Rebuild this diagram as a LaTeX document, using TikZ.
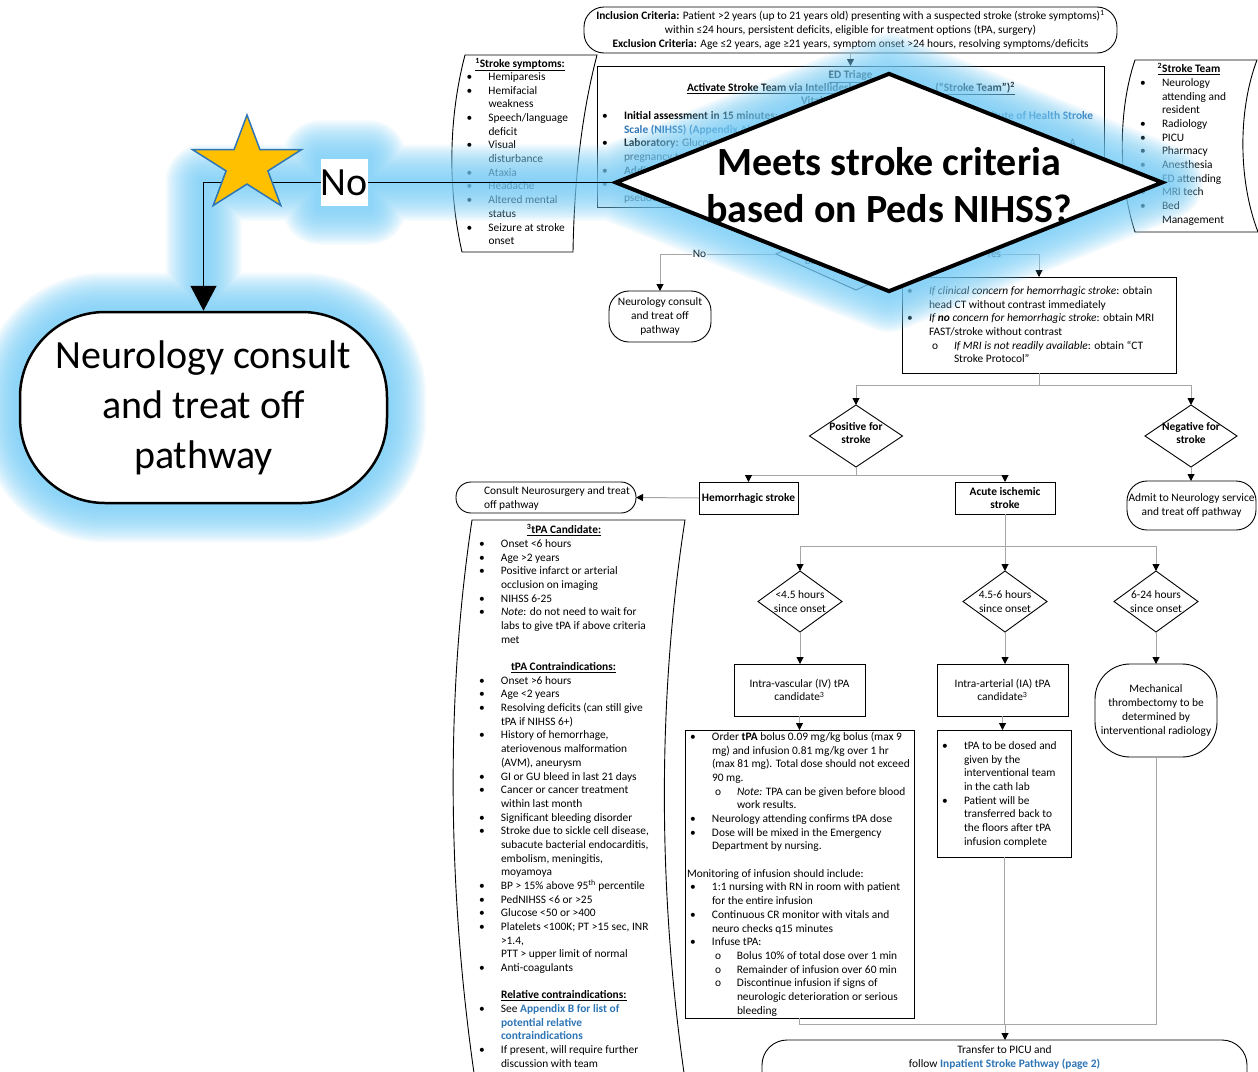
\documentclass[tikz,border=0pt]{standalone}
\usepackage{fontspec}
\setmainfont{Carlito}
\usetikzlibrary{shapes.geometric,arrows.meta}

\definecolor{linkblue}{RGB}{46,117,182}
\definecolor{conngray}{RGB}{166,166,166}
\definecolor{glowblue}{RGB}{118,204,246}
\definecolor{stargold}{RGB}{255,192,0}
\definecolor{staredge}{RGB}{46,117,182}

\newcommand\tf{\fontsize{11.4}{13.68}\selectfont}
\newcommand\hugeB{\fontsize{40}{47}\selectfont\bfseries}
\newcommand\hugeR{\fontsize{40}{50}\selectfont}
\newcommand\pbul{\makebox[22pt][l]{\textbullet}}
\newcommand\pind{\hspace*{22pt}}
\newcommand\psub{\hspace*{25pt}\makebox[22pt][l]{o}}
\newcommand\psubind{\hspace*{47pt}}
\newcommand\lnk[1]{\textcolor{linkblue}{\textbf{#1}}}

\pgfdeclarelayer{glowlayer}
\pgfdeclarelayer{frontlayer}
\pgfsetlayers{main,glowlayer,frontlayer}

\tikzset{
  txt/.style={inner sep=0pt, outer sep=0pt, font=\tf, align=left},
  ctxt/.style={inner sep=0pt, outer sep=0pt, font=\tf, align=center},
  box/.style={draw=black, line width=0.9pt, fill=white, inner sep=0pt, outer sep=0pt},
  term/.style={box, rounded corners=#1},
  dia/.style={box, diamond},
  conn/.style={draw=conngray, line width=1pt, -{Triangle[width=7pt,length=7pt,color=black]}},
  link/.style={draw=conngray, line width=1pt},
  bigdia/.style={diamond, draw=black, line width=4pt, fill=white, inner sep=0pt,
    minimum width=548pt, minimum height=219pt},
}

\begin{document}
\begin{tikzpicture}[x=1pt,y=-1pt]
\useasboundingbox (0,0) rectangle (1258,1071);
\clip (0,0) rectangle (1258,1071);

% ---------- criteria header ----------
\node[term=20pt, ctxt, draw, minimum width=533pt, minimum height=46pt] (incl) at (850.5,30)
  {\textbf{Inclusion Criteria:} Patient >2 years (up to 21 years old) presenting with a suspected stroke (stroke symptoms)\textsuperscript{1}\\
   within ≤24 hours, persistent deficits, eligible for treatment options (tPA, surgery)\\
   \textbf{Exclusion Criteria:} Age ≤2 years, age ≥21 years, symptom onset >24 hours, resolving symptoms/deficits};

% ---------- stroke symptoms (side note) ----------
% multi-line nodes are anchored on the baseline of their last line
\draw[box] (465,55) -- (597,55) .. controls (580,120) and (574,190) .. (573,252)
  -- (462,252) .. controls (448,190) and (448,120) .. (465,55) -- cycle;
\node[txt, anchor=base] (symt) at (520,67.5) {\textbf{\underline{\textsuperscript{1}Stroke symptoms:}}};
\node[txt, anchor=base west] (syml) at (466.5,244.7)
  {\pbul Hemiparesis\\\pbul Hemifacial\\\pind weakness\\\pbul Speech/language\\\pind deficit\\
   \pbul Visual\\\pind disturbance\\\pbul Ataxia\\\pbul Headache\\\pbul Altered mental\\\pind status\\
   \pbul Seizure at stroke\\\pind onset};

% ---------- stroke team (side note) ----------
\draw[box] (1135,60) -- (1257,60) .. controls (1238,110) and (1238,180) .. (1258,232)
  -- (1135,232) .. controls (1118,180) and (1118,110) .. (1135,60) -- cycle;
\node[txt, anchor=base] (teamt) at (1189,72.5) {\textbf{\underline{\textsuperscript{2}Stroke Team}}};
\node[txt, anchor=base west] (teaml) at (1140,223.3)
  {\pbul Neurology\\\pind attending and\\\pind resident\\\pbul Radiology\\\pbul PICU\\\pbul Pharmacy\\
   \pbul Anesthesia\\\pbul ED attending\\\pbul MRI tech\\\pbul Bed\\\pind Management};

% ---------- ED triage ----------
\node[box, minimum width=507pt, minimum height=141pt] (ed) at (850.5,136.5) {};
\node[txt, anchor=base] (edt) at (850.5,78.5) {\textbf{\underline{ED Triage}}};
\node[txt, anchor=base west] (act1) at (687,91.5) {\textbf{\underline{Activate Stroke Team via Intellidesk}}};
\node[txt, anchor=base east] (act2) at (1015,91.5) {\textbf{\underline{(“Stroke Team”)\textsuperscript{2}}}};
\node[txt, anchor=base west] (vit) at (801,104.5) {\textbf{Vital signs}};
\node[txt, anchor=base west] (edl) at (602,201.6)
  {\pbul\textbf{Initial assessment in 15 minutes}:\\
   \pind\lnk{Scale (NIHSS) (Appendix A)}\\
   \pbul\textbf{Laboratory:} Glucose\\
   \pind pregnancy test\\
   \pbul\textbf{Additional}\\
   \pbul\\
   \pind pseudotumor};
\node[txt, anchor=base east] (nih) at (1093,119.5) {\lnk{National Institute of Health Stroke}};
\node[txt, anchor=base east] (laba) at (1076,146.5) {A};

% ---------- first decision ----------
\node[dia, minimum width=160pt, minimum height=72pt,
  label={[ctxt]center:{Meets stroke criteria\\based on Peds NIHSS?}}] (sq) at (856,254) {};
\node[term=20pt, ctxt, minimum width=102pt, minimum height=51pt] (neuro) at (660,316.5)
  {Neurology consult\\and treat off\\pathway};
\node[box, minimum width=274pt, minimum height=96pt] (img) at (1039,325) {};
\node[txt, anchor=base west] (imgl) at (907,362.9)
  {\pbul\emph{If clinical concern for hemorrhagic stroke}: obtain\\
   \pind head CT without contrast immediately\\
   \pbul\emph{If \textbf{no} concern for hemorrhagic stroke}: obtain MRI\\
   \pind FAST/stroke without contrast\\
   \psub\emph{If MRI is not readily available}: obtain “CT\\
   \psubind Stroke Protocol”};

\draw[conn] (incl.south) -- (ed.north);
\draw[conn] (sq.west) -| (neuro.north) node[pos=0.33, txt, fill=white, inner sep=1pt] (nolbl) {No};
\draw[conn] (sq.east) -| (img.north) node[pos=0.28, txt, fill=white, inner sep=1pt] (yeslbl) {Yes};

% ---------- imaging result ----------
\coordinate (j1) at (1039,385);
\node[dia, minimum width=93pt, minimum height=62pt,
  label={[ctxt, font=\tf\bfseries, yshift=3pt]center:{Positive for\\stroke}}] (pos) at (856,436) {};
\node[dia, minimum width=92pt, minimum height=62pt,
  label={[ctxt, font=\tf\bfseries, yshift=3pt]center:{Negative for\\stroke}}] (neg) at (1191,436) {};
\draw[link] (img.south) -- (j1);
\draw[conn] (j1) -| (pos.north);
\draw[conn] (j1) -| (neg.north);

\node[term=20pt, ctxt, minimum width=129pt, minimum height=49pt] (admit) at (1191.5,505.5)
  {Admit to Neurology service\\and treat off pathway};
\draw[conn] (neg.south) -- (neg.south |- admit.north);

% ---------- stroke type ----------
\coordinate (j2) at (856,475);
\node[box, ctxt, font=\tf\bfseries, minimum width=99pt, minimum height=32pt] (hem) at (748.5,498) {Hemorrhagic stroke};
\node[box, ctxt, font=\tf\bfseries, minimum width=100pt, minimum height=32pt] (acute) at (1005,498) {Acute ischemic\\stroke};
\node[term=15pt, minimum width=180pt, minimum height=31pt] (consult) at (546,497.5) {};
\node[txt, anchor=base west] (consultt) at (484,508.2) {Consult Neurosurgery and treat\\off pathway};
\draw[link] (pos.south) -- (j2);
\draw[conn] (j2) -| (hem.north);
\draw[conn] (j2) -| (acute.north);
\draw[conn] (hem.west) -- (consult.east);

% ---------- tPA criteria (side note) ----------
\draw[box] (685,520) .. controls (657,700) and (657,900) .. (688,1100)
  -- (478,1100) .. controls (447,900) and (445,700) .. (472,520) -- cycle;
\node[txt, anchor=base] (tpat) at (564,533.5) {\textbf{\underline{\textsuperscript{3}tPA Candidate:}}};
\node[txt, anchor=base west] (tpal) at (479,1067.3)
  {\pbul Onset <6 hours\\
   \pbul Age >2 years\\
   \pbul Positive infarct or arterial\\
   \pind occlusion on imaging\\
   \pbul NIHSS 6-25\\
   \pbul\emph{Note}: do not need to wait for\\
   \pind labs to give tPA if above criteria\\
   \pind met\\
   ~\\
   \hspace*{32pt}\textbf{\underline{tPA Contraindications:}}\\
   \pbul Onset >6 hours\\
   \pbul Age <2 years\\
   \pbul Resolving deficits (can still give\\
   \pind tPA if NIHSS 6+)\\
   \pbul History of hemorrhage,\\
   \pind ateriovenous malformation\\
   \pind (AVM), aneurysm\\
   \pbul GI or GU bleed in last 21 days\\
   \pbul Cancer or cancer treatment\\
   \pind within last month\\
   \pbul Significant bleeding disorder\\
   \pbul Stroke due to sickle cell disease,\\
   \pind subacute bacterial endocarditis,\\
   \pind embolism, meningitis,\\
   \pind moyamoya\\
   \pbul BP > 15\% above 95\textsuperscript{th} percentile\\
   \pbul PedNIHSS <6 or >25\\
   \pbul Glucose <50 or >400\\
   \pbul Platelets <100K; PT >15 sec, INR\\
   \pind >1.4,\\
   \pind PTT > upper limit of normal\\
   \pbul Anti-coagulants\\
   ~\\
   \pind\textbf{\underline{Relative contraindications:}}\\
   \pbul See \lnk{Appendix B for list of}\\
   \pind\lnk{potential relative}\\
   \pind\lnk{contraindications}\\
   \pbul If present, will require further\\
   \pind discussion with team};

% ---------- time since onset ----------
\coordinate (j3) at (1005,546);
\node[dia, minimum width=84pt, minimum height=61pt,
  label={[ctxt]center:{<4.5 hours\\since onset}}] (d1) at (800,601.5) {};
\node[dia, minimum width=84pt, minimum height=61pt,
  label={[ctxt]center:{4.5-6 hours\\since onset}}] (d2) at (1005,601.5) {};
\node[dia, minimum width=84pt, minimum height=61pt,
  label={[ctxt]center:{6-24 hours\\since onset}}] (d3) at (1156,601.5) {};
\draw[link] (acute.south) -- (j3);
\draw[conn] (j3) -| (d1.north);
\draw[conn] (j3) -- (d2.north);
\draw[conn] (j3) -| (d3.north);

\node[box, ctxt, minimum width=131pt, minimum height=52pt] (iv) at (799.5,690) {Intra-vascular (IV) tPA\\candidate\textsuperscript{3}};
\node[box, ctxt, minimum width=131pt, minimum height=52pt] (ia) at (1002.5,690) {Intra-arterial (IA) tPA\\candidate\textsuperscript{3}};
\node[term=35pt, ctxt, minimum width=122pt, minimum height=93pt] (mech) at (1156,710.5)
  {Mechanical\\thrombectomy to be\\determined by\\interventional radiology};
\draw[conn] (d1.south) -- (d1.south |- iv.north);
\draw[conn] (d2.south) -- (d2.south |- ia.north);
\draw[conn] (d3.south) -- (d3.south |- mech.north);

% ---------- treatment details ----------
\node[box, minimum width=229pt, minimum height=288pt] (ivd) at (799.5,874) {};
\node[txt, anchor=base west] (ivdl) at (690,1014.1)
  {\pbul Order \textbf{tPA} bolus 0.09 mg/kg bolus (max 9\\
   \pind mg) and infusion 0.81 mg/kg over 1 hr\\
   \pind (max 81 mg). Total dose should not exceed\\
   \pind 90 mg.\\
   \psub\emph{Note:} TPA can be given before blood\\
   \psubind work results.\\
   \pbul Neurology attending confirms tPA dose\\
   \pbul Dose will be mixed in the Emergency\\
   \pind Department by nursing.\\
   ~\\
   \hspace*{-3pt}Monitoring of infusion should include:\\
   \pbul 1:1 nursing with RN in room with patient\\
   \pind for the entire infusion\\
   \pbul Continuous CR monitor with vitals and\\
   \pind neuro checks q15 minutes\\
   \pbul Infuse tPA:\\
   \psub Bolus 10\% of total dose over 1 min\\
   \psub Remainder of infusion over 60 min\\
   \psub Discontinue infusion if signs of\\
   \psubind neurologic deterioration or serious\\
   \psubind bleeding};
\node[box, minimum width=134pt, minimum height=127pt] (iad) at (1004,793.5) {};
\node[txt, anchor=base west] (iadl) at (942,845.3)
  {\pbul tPA to be dosed and\\
   \pind given by the\\
   \pind interventional team\\
   \pind in the cath lab\\
   \pbul Patient will be\\
   \pind transferred back to\\
   \pind the floors after tPA\\
   \pind infusion complete};
\draw[conn] (iv.south) -- (iv.south |- ivd.north);
\draw[conn] (ia.south) -- (ia.south |- iad.north);

% ---------- hand-off ----------
\coordinate (j4) at (1005,1024);
\node[term=25pt, minimum width=485pt, minimum height=68pt] (pathw) at (1004.5,1074) {};
\node[ctxt, anchor=base] (pathwt) at (1004.5,1067.2)
  {Transfer to PICU and\\follow \lnk{Inpatient Stroke Pathway (page 2)}};
\draw[link] (ivd.south) |- (j4);
\draw[link] (mech.south) |- (j4);
\draw[link] (iad.south) -- (iad.south |- j4);
\draw[conn] (j4) -- (j4 |- pathw.north);

% ---------- enlarged callout ----------
\begin{pgfonlayer}{frontlayer}
  \node[bigdia] (bigq) at (889,182.5) {};
  \node[inner sep=0pt, align=center, font=\hugeB] (bigqt) at (889,185) {Meets stroke criteria\\based on Peds NIHSS?};
  \node[draw=black, line width=2.5pt, fill=white, rounded corners=85pt, inner sep=0pt,
    minimum width=367pt, minimum height=191pt, align=center, font=\hugeR] (bignode) at (203.5,407.5)
    {Neurology consult\\and treat off\\pathway};
  \draw[line width=1.3pt, -{Triangle[width=26pt,length=25pt]}] (bigq.west) -| (bignode.north)
    node[pos=0.328, fill=white, inner sep=0pt, minimum width=47pt, minimum height=47pt, font=\hugeR] (nolab) {No};
  \draw[fill=stargold, draw=staredge, line width=1.5pt]
    (247,115) -- (259.9,149.5) -- (301.7,149.5) -- (267.9,170.9) -- (280.8,205.5)
    -- (247,184.1) -- (213.2,205.5) -- (226.1,170.9) -- (192.3,149.5) -- (234.1,149.5) -- cycle;
\end{pgfonlayer}

% soft highlight around the callout
\begin{pgfonlayer}{glowlayer}
  \foreach \w in {76,72,...,8} {
    \draw[glowblue, opacity=0.09, line width=\w pt, line join=round, line cap=round]
      (bigq.north) -- (bigq.east) -- (bigq.south) -- (bigq.west) -- cycle
      (bigq.west) -- (bignode.north |- bigq.west) -- (bignode.north)
      (nolab.south west) rectangle (nolab.north east)
      [rounded corners=85pt] (bignode.south west) rectangle (bignode.north east);
  }
\end{pgfonlayer}
\end{tikzpicture}
\end{document}
